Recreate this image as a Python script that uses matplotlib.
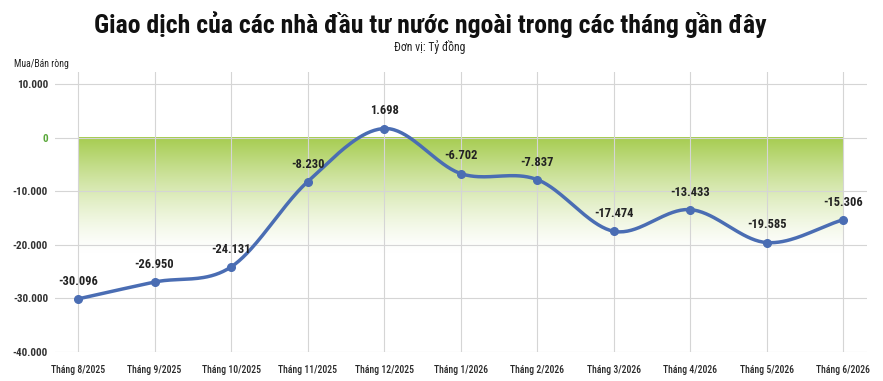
import numpy as np
import matplotlib
matplotlib.use("Agg")
import matplotlib.pyplot as plt
from matplotlib import font_manager as fm

months = ["Tháng 8/2025", "Tháng 9/2025", "Tháng 10/2025", "Tháng 11/2025",
          "Tháng 12/2025", "Tháng 1/2026", "Tháng 2/2026", "Tháng 3/2026",
          "Tháng 4/2026", "Tháng 5/2026", "Tháng 6/2026"]
values = [-30096, -26950, -24131, -8230, 1698, -6702, -7837, -17474, -13433, -19585, -15306]
value_labels = ["-30.096", "-26.950", "-24.131", "-8.230", "1.698", "-6.702",
                "-7.837", "-17.474", "-13.433", "-19.585", "-15.306"]
yticks = [10000, 0, -10000, -20000, -30000, -40000]
ytick_labels = ["10.000", "0", "-10.000", "-20.000", "-30.000", "-40.000"]

names = {f.name for f in fm.fontManager.ttflist}
main = "DejaVu Sans"
for cand in ["Roboto Condensed", "Liberation Sans Narrow", "Roboto", "Liberation Sans"]:
    if cand in names:
        main = cand
        break
plt.rcParams['font.family'] = [main, 'DejaVu Sans']

fig = plt.figure(figsize=(8.83, 3.81), dpi=100)
ax = fig.add_axes([0.0623, 0.0761, 0.9197, 0.735])

x = np.arange(len(values))
y = np.array(values, dtype=float)

# smooth curve (Catmull-Rom) for rendering only
def catmull(xp, yp, n=40):
    P = np.column_stack([xp, yp])
    P = np.vstack([P[0] - (P[1] - P[0]), P, P[-1] + (P[-1] - P[-2])])
    out = []
    for i in range(1, len(P) - 2):
        p0, p1, p2, p3 = P[i - 1], P[i], P[i + 1], P[i + 2]
        t = np.linspace(0, 1, n)[:, None]
        pts = 0.5 * ((2 * p1) + (-p0 + p2) * t + (2 * p0 - 5 * p1 + 4 * p2 - p3) * t ** 2
                     + (-p0 + 3 * p1 - 3 * p2 + p3) * t ** 3)
        out.append(pts if i == len(P) - 3 else pts[:-1])
    return np.vstack(out)

curve = catmull(x, y)

ax.set_xlim(-0.30, 10.31)
ax.set_ylim(-40000, 12250)

# gradient band under zero
g = np.linspace(0, 1, 256)[:, None]
w = (1 - g) ** 1.4
top = np.array([0.65, 0.80, 0.31])
img = top[None, None, :] * w[:, :, None] + np.ones(3)[None, None, :] * (1 - w[:, :, None])
ax.imshow(img, extent=[0, 10, -21500, 0], aspect='auto', zorder=0, origin='upper')

for v in yticks:
    ax.axhline(v, color='#d5d5d5', lw=0.8, zorder=1)
for xi in x:
    ax.axvline(xi, color='#d5d5d5', lw=0.8, zorder=1)

ax.plot(curve[:, 0], curve[:, 1], color='#4a6db3', lw=2.5, zorder=3, solid_capstyle='round')
ax.plot(x, y, 'o', color='#4a6db3', ms=5.5, zorder=4)

for xi, yi, lab in zip(x, y, value_labels):
    ax.annotate(lab, (xi, yi), xytext=(0, 8), textcoords='offset points',
                ha='center', va='bottom', fontsize=9, fontweight='bold', color='#222222')

ax.set_yticks(yticks)
ax.set_yticklabels(ytick_labels, fontsize=8, fontweight='bold')
for t, v in zip(ax.get_yticklabels(), yticks):
    t.set_color('#5aa83a' if v == 0 else '#333333')
ax.set_xticks(x)
ax.set_xticklabels(months, fontsize=7, color='#2a2a2a', fontweight='medium')
ax.tick_params(length=0, pad=5)
ax.tick_params(axis='x', pad=9)
for s in ax.spines.values():
    s.set_visible(False)

fig.text(0.487, 0.935, "Giao dịch của các nhà đầu tư nước ngoài trong các tháng gần đây",
         ha='center', va='center', fontsize=18.5, fontweight='heavy', color='#111111')
fig.text(0.487, 0.877, "Đơn vị: Tỷ đồng", ha='center', va='center', fontsize=8.5, color='#222222')
fig.text(0.016, 0.832, "Mua/Bán ròng", ha='left', va='center', fontsize=7, color='#222222')

fig.savefig("out.png", dpi=100)
